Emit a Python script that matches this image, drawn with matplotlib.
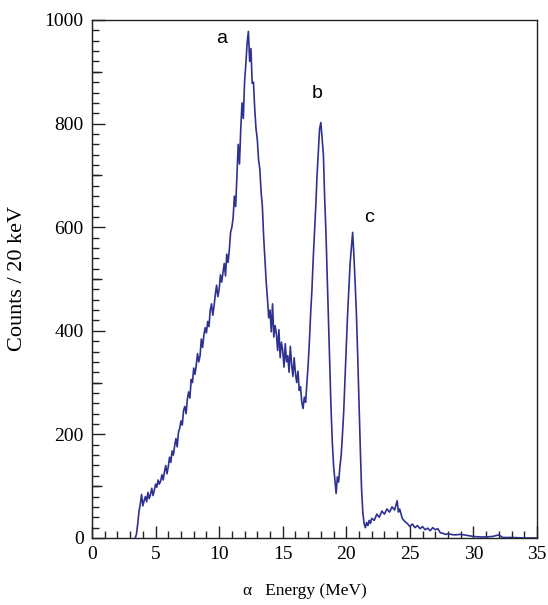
import numpy as np
import matplotlib.pyplot as plt
from matplotlib.ticker import MultipleLocator, NullLocator

# alpha spectrum, 0.1 MeV steps from 3.4 to 21.5 MeV
e_main = np.round(np.arange(3.4, 21.55, 0.1), 1)
c_main = [0, 8, 28, 52, 66, 84, 62, 72, 80, 70,
          88, 76, 84, 96, 82, 92, 104, 98, 112, 104,
          110, 122, 112, 128, 140, 124, 138, 156, 146, 168,
          160, 178, 192, 176, 204, 212, 226, 218, 246, 254,
          240, 268, 282, 270, 306, 300, 328, 316, 334, 356,
          340, 352, 384, 368, 392, 406, 396, 418, 408, 440,
          452, 430, 448, 470, 488, 466, 480, 508, 494, 512,
          530, 506, 548, 532, 556, 590, 600, 618, 660, 640,
          700, 760, 722, 790, 840, 810, 880, 915, 955, 978,
          920, 945, 878, 880, 828, 790, 770, 730, 712, 668,
          640, 582, 540, 495, 462, 425, 440, 398, 452, 388,
          410, 395, 362, 402, 348, 378, 362, 330, 375, 340,
          352, 320, 370, 335, 312, 348, 318, 300, 322, 285,
          292, 262, 250, 272, 262, 300, 335, 380, 435, 480,
          540, 590, 640, 700, 745, 790, 802, 770, 740, 655,
          590, 505, 420, 330, 250, 185, 140, 112, 86, 118,
          108, 138, 160, 200, 245, 310, 370, 430, 480, 530,
          560, 590, 545, 490, 430, 350, 260, 175, 95, 50,
          28, 20]

# high-energy tail
e_tail = [21.6, 21.7, 21.8, 21.9, 22.0, 22.2, 22.4, 22.6, 22.8, 23.0,
          23.2, 23.4, 23.6, 23.8, 24.0, 24.1, 24.2, 24.4, 24.6, 24.8,
          25.0, 25.2, 25.4, 25.6, 25.8, 26.0, 26.2, 26.4, 26.6, 26.8,
          27.0, 27.2, 27.4, 27.6, 27.8, 28.0, 28.5, 29.0, 29.5, 30.0,
          30.5, 31.0, 31.5, 32.0, 32.3, 33.0, 34.0, 35.0]
c_tail = [30, 24, 34, 28, 38, 34, 46, 40, 52, 46,
          56, 50, 60, 54, 72, 50, 56, 38, 32, 28,
          22, 27, 20, 24, 18, 22, 16, 19, 14, 20,
          16, 18, 10, 9, 7, 8, 6, 7, 5, 3,
          2, 2, 3, 6, 1, 1, 0, 0]

peak_labels = ['a', 'b', 'c']
peak_pos = [(10.2, 965), (17.7, 858), (21.8, 618)]

energy = np.concatenate([e_main, e_tail])
counts = np.concatenate([c_main, c_tail])

W, H = 548, 605
fig = plt.figure(figsize=(W / 100, H / 100), dpi=100)
ax = fig.add_axes((92 / W, 1 - 538 / H, 445 / W, 518 / H))

ax.plot(energy, counts, color='#2e3192', lw=1.2)

for lab, (x, y) in zip(peak_labels, peak_pos):
    ax.text(x, y, lab, fontsize=14, family='Liberation Sans',
            ha='center', va='center')

ax.set_xlim(0, 35)
ax.set_ylim(0, 1000)

ax.xaxis.set_major_locator(MultipleLocator(5))
ax.xaxis.set_minor_locator(MultipleLocator(1))
ax.yaxis.set_major_locator(MultipleLocator(200))
ax.yaxis.set_minor_locator(MultipleLocator(20))

tick_col = '#222222'
ax.tick_params(which='both', direction='in', top=False, right=False,
               labelsize=14, color=tick_col, width=1)
ax.tick_params(axis='y', which='major', length=9.5, pad=6)
ax.tick_params(axis='y', which='minor', length=5)
ax.tick_params(axis='x', which='major', length=9, pad=6)
ax.tick_params(axis='x', which='minor', length=5)

# medium-length ticks at every 100 counts
sec = ax.secondary_yaxis('left')
sec.set_yticks([100, 300, 500, 700, 900])
sec.yaxis.set_minor_locator(NullLocator())
sec.tick_params(direction='in', length=7.2, width=1, color=tick_col,
                labelleft=False)
sec.spines['left'].set_color(tick_col)

for lbl in ax.get_xticklabels() + ax.get_yticklabels():
    lbl.set_family('Liberation Serif')

for sp in ax.spines.values():
    sp.set_linewidth(1)
    sp.set_color(tick_col)

fig.text(17.5 / W, 1 - 278.5 / H, 'Counts / 20 keV', rotation=90,
         family='Liberation Serif', fontsize=16, ha='center', va='center')
fig.text(243 / W, 1 - 591 / H, '\u03b1   Energy (MeV)',
         family='Liberation Serif', fontsize=12.5, ha='left', va='center')

fig.savefig('out.png', dpi=100)
